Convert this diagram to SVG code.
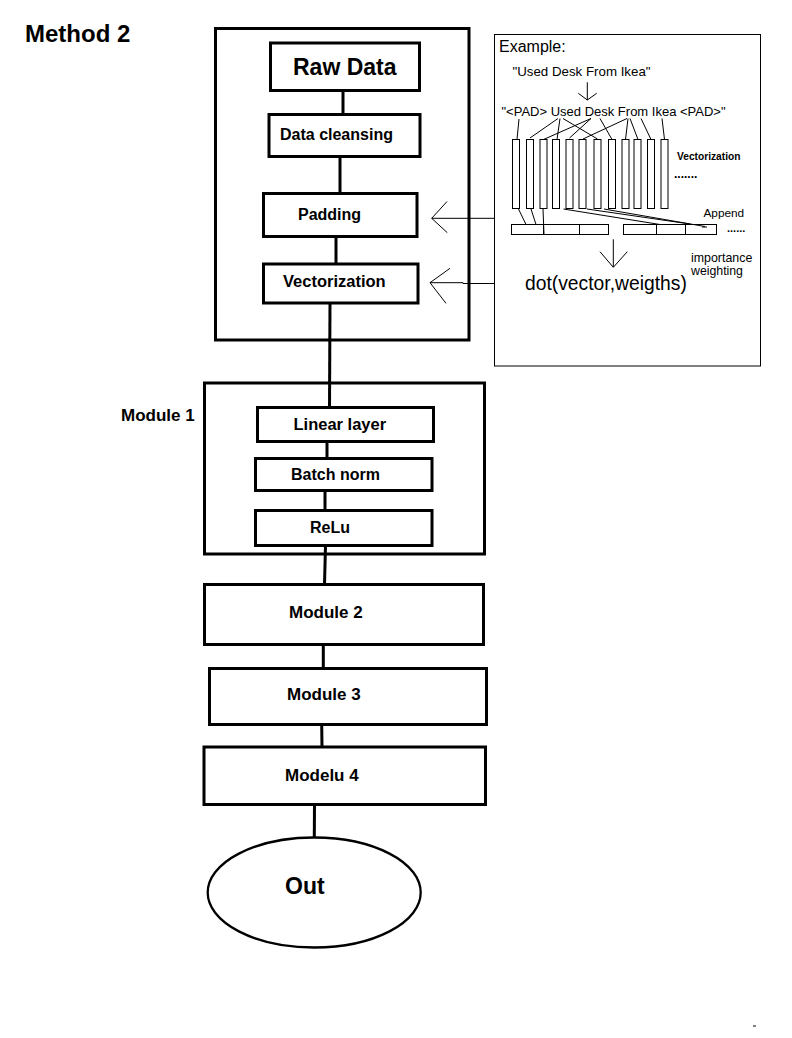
<svg xmlns="http://www.w3.org/2000/svg" width="792" height="1038" viewBox="0 0 792 1038">
<style>
.box{fill:none;stroke:#000;stroke-width:3}
.thin{fill:none;stroke:#000;stroke-width:1}
.con{stroke:#000;stroke-width:3;fill:none}
.b{font-family:"Liberation Sans",Arial,sans-serif;font-weight:bold;fill:#000}
.r{font-family:"Liberation Sans",Arial,sans-serif;fill:#000}
</style>
<rect width="792" height="1038" fill="#fff"/>
<text class="b" x="25" y="42" font-size="24">Method 2</text>

<g id="preprocessing">
<rect class="box" x="215.5" y="28.5" width="253.5" height="311.5"/>
</g>
<g id="raw-data">
<rect class="box" x="270.5" y="43" width="149" height="47.5"/>
<text class="b" x="293" y="75" font-size="23">Raw Data</text>
</g>
<g id="data-cleansing">
<rect class="box" x="269" y="114.5" width="151" height="42"/>
<text class="b" x="280" y="140" font-size="16">Data cleansing</text>
</g>
<g id="padding">
<rect class="box" x="263.5" y="193.5" width="153.5" height="43"/>
<text class="b" x="298" y="220" font-size="16">Padding</text>
</g>
<g id="vectorization">
<rect class="box" x="263.5" y="264" width="154.5" height="39"/>
<text class="b" x="283" y="287" font-size="16.5">Vectorization</text>
</g>

<g id="module1">
<rect class="box" x="204.5" y="383" width="280" height="171"/>
<text class="b" x="121" y="420.5" font-size="17">Module 1</text>
</g>
<g id="linear-layer">
<rect class="box" x="257.5" y="407.5" width="176" height="34"/>
<text class="b" x="293.5" y="430" font-size="16.5">Linear layer</text>
</g>
<g id="batch-norm">
<rect class="box" x="255.5" y="458.5" width="176.5" height="32"/>
<text class="b" x="291" y="480" font-size="16">Batch norm</text>
</g>
<g id="relu">
<rect class="box" x="255.5" y="510.5" width="176.5" height="35"/>
<text class="b" x="310" y="533" font-size="16">ReLu</text>
</g>
<g id="module2">
<rect class="box" x="204.5" y="584.5" width="279" height="60"/>
<text class="b" x="289" y="618" font-size="17">Module 2</text>
</g>
<g id="module3">
<rect class="box" x="209.5" y="668.5" width="277" height="56"/>
<text class="b" x="287" y="700" font-size="17">Module 3</text>
</g>
<g id="module4">
<rect class="box" x="204" y="747" width="281.5" height="57.5"/>
<text class="b" x="285" y="781" font-size="17">Modelu 4</text>
</g>
<g id="out">
<ellipse cx="314.2" cy="892.5" rx="106.5" ry="55" fill="none" stroke="#000" stroke-width="2.3"/>
<text class="b" x="285" y="894" font-size="23">Out</text>
</g>

<g id="connectors">
<line class="con" x1="343" y1="90.5" x2="343" y2="114.5"/>
<line class="con" x1="340" y1="156.5" x2="340" y2="193.5"/>
<line class="con" x1="336" y1="236.5" x2="336" y2="264"/>
<line class="con" x1="330" y1="303" x2="329.5" y2="407.5"/>
<line class="con" x1="327" y1="441.5" x2="327" y2="458.5"/>
<line class="con" x1="325" y1="490.5" x2="325" y2="510.5"/>
<line class="con" x1="325.5" y1="545.5" x2="324.5" y2="584.5"/>
<line class="con" x1="323.3" y1="644.5" x2="323.3" y2="668.5"/>
<line class="con" x1="321.7" y1="724.5" x2="322" y2="747"/>
<line class="con" x1="314.5" y1="804.5" x2="314.3" y2="837.5"/>
<polyline class="thin" points="494,218.3 431.7,218.3"/>
<polyline class="thin" points="447,201.5 431.7,218.3 447.3,232.7"/>
<polyline class="thin" points="494,283.5 463,283.5 463,282.7 430,282.7"/>
<polyline class="thin" points="450,268.3 430,282.7 446,303.3"/>
</g>

<g id="example">
<rect class="thin" x="494.5" y="34.5" width="266" height="331.5"/>
<text class="r" x="499" y="51.5" font-size="16">Example:</text>
<text class="r" x="512.5" y="75.5" font-size="13.3">"Used Desk From Ikea"</text>
<line class="thin" x1="587.3" y1="82.3" x2="587.3" y2="100"/>
<polyline class="thin" points="578.3,93.3 587.3,100 596.7,93.3"/>
<text class="r" x="501.5" y="115.5" font-size="13">"&lt;PAD&gt; Used Desk From Ikea &lt;PAD&gt;"</text>
<g class="thin">
<line x1="519" y1="119" x2="517" y2="139.5"/>
<line x1="558" y1="118.5" x2="530" y2="138"/>
<line x1="591" y1="118.5" x2="543.5" y2="139.5"/>
<line x1="560" y1="118.5" x2="557" y2="139.5"/>
<line x1="591" y1="118.5" x2="569.5" y2="138"/>
<line x1="627" y1="118.5" x2="583" y2="139"/>
<line x1="563" y1="118.5" x2="597.5" y2="139"/>
<line x1="600" y1="118.5" x2="612" y2="139.5"/>
<line x1="628" y1="118.5" x2="625.5" y2="139.5"/>
<line x1="630" y1="118.5" x2="638" y2="139.5"/>
<line x1="641" y1="118.5" x2="651" y2="139.5"/>
<line x1="662" y1="118.5" x2="664.5" y2="139.5"/>
</g>
<g class="thin">
<rect x="512.5" y="139.5" width="7" height="69"/>
<rect x="526.5" y="139.5" width="7" height="69"/>
<rect x="540" y="139.5" width="7" height="69"/>
<rect x="552.5" y="139.5" width="7" height="69"/>
<rect x="566" y="139.5" width="7" height="69"/>
<rect x="579" y="139.5" width="7" height="69"/>
<rect x="594" y="139.5" width="7" height="69"/>
<rect x="608.5" y="139.5" width="7" height="69"/>
<rect x="622" y="139.5" width="7" height="69"/>
<rect x="634" y="139.5" width="7" height="69"/>
<rect x="647.5" y="139.5" width="7" height="69"/>
<rect x="661" y="139.5" width="7" height="69"/>
</g>
<text class="b" x="677" y="159.5" font-size="10.2">Vectorization</text>
<text class="b" x="674" y="178" font-size="12">.......</text>
<text class="r" x="703.5" y="216.5" font-size="11.8">Append</text>
<g class="thin">
<line x1="518.5" y1="209" x2="526" y2="224.5"/>
<line x1="531" y1="209" x2="536" y2="224.5"/>
<line x1="543" y1="209" x2="544" y2="234.5"/>
<line x1="563.5" y1="209" x2="660" y2="224.5"/>
<line x1="587" y1="209" x2="690" y2="224"/>
<line x1="604" y1="209" x2="705" y2="226.5"/>
<line x1="690" y1="224.5" x2="695" y2="224.5"/>
<line x1="702" y1="227" x2="707" y2="227"/>
</g>
<g class="thin">
<rect x="511.5" y="224.5" width="97" height="10"/>
<line x1="543.5" y1="224.5" x2="543.5" y2="234.5"/>
<line x1="579.5" y1="224.5" x2="579.5" y2="234.5"/>
<rect x="623.5" y="224.5" width="93" height="10"/>
<line x1="656.5" y1="224.5" x2="656.5" y2="234.5"/>
<line x1="685.5" y1="224.5" x2="685.5" y2="234.5"/>
</g>
<text class="b" x="727" y="231.5" font-size="11">......</text>
<line class="thin" x1="613.3" y1="239.3" x2="613.3" y2="267"/>
<polyline class="thin" points="600,251.7 613.3,267.3 627.3,251.7"/>
<text class="r" x="691" y="261.5" font-size="12.4">importance</text>
<text class="r" x="691" y="275" font-size="12.3">weighting</text>
<text class="r" x="525" y="290" font-size="19.3">dot(vector,weigths)</text>
</g>
<line class="thin" x1="753" y1="1026" x2="756" y2="1026"/>
</svg>
